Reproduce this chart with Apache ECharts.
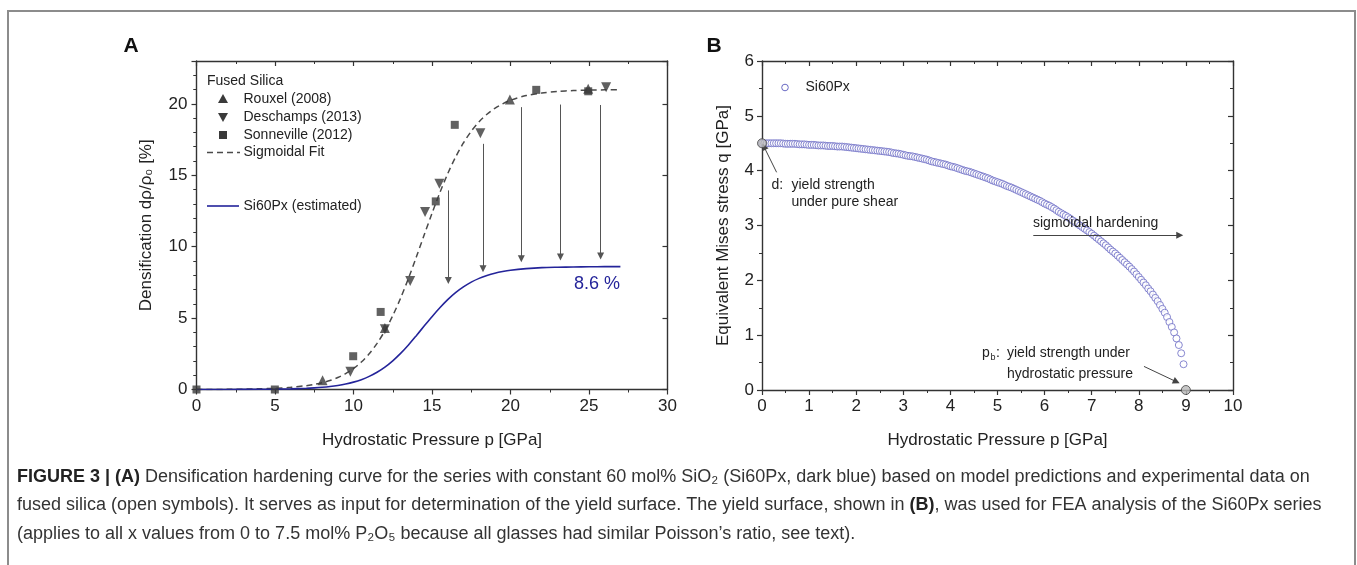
<!DOCTYPE html>
<html><head><meta charset="utf-8">
<script src="https://cdn.jsdelivr.net/npm/echarts@6/dist/echarts.min.js"></script>
<style>html,body{margin:0;padding:0;background:#fff;}#c{width:1357px;height:565px;}</style>
</head><body><div id="c"></div>
<script>
// ---------- Panel A data ----------
const rouxel = [[8.03,0.65],[12.0,4.30],[19.96,20.30],[24.95,21.05]];
const deschamps = [[9.80,1.24],[12.0,4.22],[13.61,7.60],[14.56,12.42],[15.47,14.41],[18.08,17.95],[26.09,21.16]];
const sonneville = [[0,0],[4.99,0],[9.98,2.33],[11.73,5.43],[15.24,13.17],[16.45,18.53],[21.64,20.98],[24.95,20.88]];
const curveX = [0,2,4,5,6,7,7.5,8,8.5,9,9.5,10,10.5,11,11.5,12,12.5,13,13.5,14,14.5,15,15.5,16,16.5,17,17.5,18,18.5,19,19.5,20,21,22,23,24,25,26,27];
const fitY = [0,0.01,0.05,0.08,0.15,0.27,0.36,0.48,0.63,0.84,1.11,1.47,1.92,2.50,3.23,4.11,5.17,6.40,7.78,9.27,10.81,12.33,13.78,15.11,16.27,17.26,18.08,18.75,19.27,19.69,20.00,20.25,20.58,20.76,20.87,20.93,20.96,20.98,20.99];
const si60Y = [0,0.004,0.013,0.024,0.045,0.083,0.114,0.155,0.21,0.285,0.384,0.517,0.691,0.918,1.206,1.569,2.01,2.53,3.12,3.77,4.44,5.10,5.72,6.29,6.78,7.18,7.52,7.78,7.98,8.14,8.26,8.35,8.46,8.53,8.56,8.58,8.59,8.60,8.60];
const arrowX = [16.04,18.25,20.69,23.18,25.74];
const arrowTop = [13.94,17.2,19.77,19.95,19.92];
const arrowTip = [7.64,8.46,9.16,9.28,9.35];
const plateauLabel = '8.6 %';

// ---------- Panel B data ----------
const yieldP = [0,0.05,0.1,0.15,0.2,0.25,0.3,0.35,0.4,0.45,0.5,0.55,0.6,0.65,0.7,0.75,0.8,0.85,0.9,0.95,
1,1.05,1.1,1.15,1.2,1.25,1.3,1.35,1.4,1.45,1.5,1.55,1.6,1.65,1.7,1.75,1.8,1.85,1.9,1.95,
2,2.05,2.1,2.15,2.2,2.25,2.3,2.35,2.4,2.45,2.5,2.55,2.6,2.65,2.7,2.75,2.8,2.85,2.9,2.95,
3,3.05,3.1,3.15,3.2,3.25,3.3,3.35,3.4,3.45,3.5,3.55,3.6,3.65,3.7,3.75,3.8,3.85,3.9,3.95,
4,4.05,4.1,4.15,4.2,4.25,4.3,4.35,4.4,4.45,4.5,4.55,4.6,4.65,4.7,4.75,4.8,4.85,4.9,4.95,
5,5.05,5.1,5.15,5.2,5.25,5.3,5.35,5.4,5.45,5.5,5.55,5.6,5.65,5.7,5.75,5.8,5.85,5.9,5.95,
6,6.05,6.1,6.15,6.2,6.25,6.3,6.35,6.4,6.45,6.5,6.55,6.6,6.65,6.7,6.75,6.8,6.85,6.9,6.95,
7,7.05,7.1,7.15,7.2,7.25,7.3,7.35,7.4,7.45,7.5,7.55,7.6,7.65,7.7,7.75,7.8,7.85,7.9,7.95,
8,8.05,8.1,8.15,8.2,8.25,8.3,8.35,8.4,8.45,8.5,8.55,8.6,8.65,8.7,8.75,8.8,8.85,8.9,8.95];
const yieldQ = [4.50,4.50,4.50,4.50,4.50,4.50,4.50,4.50,4.50,4.495,4.49,4.49,4.49,4.49,4.49,4.485,4.48,4.48,4.48,4.475,
4.47,4.47,4.47,4.465,4.46,4.46,4.46,4.455,4.45,4.45,4.45,4.445,4.44,4.44,4.44,4.435,4.43,4.425,4.42,4.415,
4.41,4.405,4.40,4.395,4.39,4.385,4.38,4.375,4.37,4.365,4.36,4.355,4.35,4.345,4.34,4.33,4.32,4.315,4.31,4.30,
4.29,4.28,4.27,4.265,4.26,4.25,4.24,4.23,4.22,4.21,4.20,4.185,4.17,4.16,4.15,4.14,4.13,4.12,4.11,4.095,
4.08,4.07,4.06,4.045,4.03,4.015,4.00,3.99,3.98,3.965,3.95,3.935,3.92,3.905,3.89,3.875,3.86,3.84,3.82,3.805,
3.79,3.775,3.76,3.74,3.72,3.705,3.69,3.67,3.65,3.63,3.61,3.59,3.57,3.55,3.53,3.51,3.49,3.47,3.45,3.425,
3.40,3.38,3.36,3.335,3.31,3.28,3.25,3.225,3.20,3.175,3.15,3.12,3.09,3.06,3.03,3.00,2.97,2.94,2.91,2.88,
2.85,2.815,2.78,2.745,2.71,2.675,2.64,2.60,2.56,2.525,2.49,2.45,2.41,2.37,2.33,2.29,2.25,2.205,2.16,2.11,
2.06,2.01,1.96,1.91,1.85,1.80,1.74,1.68,1.62,1.55,1.48,1.41,1.33,1.24,1.15,1.05,0.94,0.82,0.67,0.47];
const keyPoints = [[0,4.5],[9,0]];
const annoArrowsB = [[[0.31,3.97],[0.04,4.44]],[[5.76,2.82],[8.87,2.82]],[[8.11,0.43],[8.80,0.15]]];

// ---------- tick labels ----------
const xTicksA = {min:0,max:30,interval:5};
const yTicksA = {min:0,max:23,interval:5};
const xTicksB = {min:0,max:10,interval:1};
const yTicksB = {min:0,max:6,interval:1};

const FONT = "'Liberation Sans', Arial, 'DejaVu Sans', sans-serif";
const AX = '#333';
const MK = '#3a3a3a';
const NAVY = '#24249a';
const CIRC = '#6a6ac4';

function axisBase(grid, range, pos, opts) {
  return Object.assign({
    type:'value', gridIndex:grid, position:pos, min:range.min, max:range.max, interval:range.interval,
    axisLine:{show:true, onZero:false, lineStyle:{color:AX, width:1.4}},
    axisTick:{show:true, inside:false, length:5, lineStyle:{color:AX, width:1.2}},
    minorTick:{show:false},
    splitLine:{show:false},
    axisLabel:{show:false},
    silent:true
  }, opts);
}
const lbl = (m) => ({show:true, fontSize:17, color:'#222', fontFamily:FONT, margin:m});

const chart = echarts.init(document.getElementById('c'), null, {renderer:'canvas'});

const xAxis = [
  axisBase(0, xTicksA, 'bottom', {minorTick:{show:true, splitNumber:2, length:3, lineStyle:{color:AX,width:1}},
    axisLabel:lbl(8), name:'Hydrostatic Pressure p [GPa]', nameLocation:'middle', nameGap:42,
    nameTextStyle:{fontSize:17, color:'#222', fontFamily:FONT}}),
  axisBase(0, xTicksA, 'top', {axisTick:{show:true, inside:true, length:5, lineStyle:{color:AX,width:1.2}},
    minorTick:{show:true, splitNumber:2, length:3, lineStyle:{color:AX,width:1}}}),
  axisBase(1, xTicksB, 'bottom', {minorTick:{show:true, splitNumber:2, length:3, lineStyle:{color:AX,width:1}},
    axisLabel:lbl(8), name:'Hydrostatic Pressure p [GPa]', nameLocation:'middle', nameGap:42,
    nameTextStyle:{fontSize:17, color:'#222', fontFamily:FONT}}),
  axisBase(1, xTicksB, 'top', {axisTick:{show:true, inside:true, length:5, lineStyle:{color:AX,width:1.2}},
    minorTick:{show:true, splitNumber:2, length:3, lineStyle:{color:AX,width:1}}})
];
const yAxis = [
  axisBase(0, yTicksA, 'left', {axisLabel:Object.assign(lbl(9), {formatter:(v)=> (v % 5 === 0 ? String(v) : '')}),
    name:'Densification dρ/ρ₀ [%]', nameLocation:'middle', nameGap:42,
    nameTextStyle:{fontSize:17, color:'#222', fontFamily:FONT}}),
  axisBase(0, {min:0,max:23,interval:1}, 'left', {axisLine:{show:false}, axisTick:{show:true, inside:false, length:3, lineStyle:{color:AX,width:1}}}),
  axisBase(0, yTicksA, 'right', {axisTick:{show:true, inside:true, length:5, lineStyle:{color:AX,width:1.2}}}),
  axisBase(0, {min:0,max:23,interval:1}, 'right', {axisLine:{show:false}, axisTick:{show:true, inside:true, length:3, lineStyle:{color:AX,width:1}}}),
  axisBase(1, yTicksB, 'left', {minorTick:{show:true, splitNumber:2, length:3, lineStyle:{color:AX,width:1}},
    axisLabel:lbl(8), name:'Equivalent Mises stress q [GPa]', nameLocation:'middle', nameGap:30,
    nameTextStyle:{fontSize:17, color:'#222', fontFamily:FONT}}),
  axisBase(1, yTicksB, 'right', {axisTick:{show:true, inside:true, length:5, lineStyle:{color:AX,width:1.2}},
    minorTick:{show:true, splitNumber:2, length:3, lineStyle:{color:AX,width:1}}})
];

const arrowLinesA = arrowX.map((x,i)=>[{coord:[x, arrowTop[i]]},{coord:[x, arrowTip[i]]}]);
const arrowLinesB = annoArrowsB.map(a=>[{coord:a[0]},{coord:a[1]}]);

const series = [
  {type:'line', name:'Sigmoidal Fit', xAxisIndex:0, yAxisIndex:0, data:curveX.map((x,i)=>[x,fitY[i]]),
   smooth:0.3, showSymbol:false, symbol:'none', lineStyle:{color:'#4a4a4a', width:1.5, type:[6,4]}, z:2},
  {type:'line', name:'Si60Px (estimated)', xAxisIndex:0, yAxisIndex:0, data:curveX.map((x,i)=>[x,si60Y[i]]),
   smooth:0.3, showSymbol:false, symbol:'none', lineStyle:{color:NAVY, width:1.6}, z:2},
  {type:'scatter', name:'Rouxel (2008)', xAxisIndex:0, yAxisIndex:0, data:rouxel, symbol:'triangle', symbolSize:10,
   itemStyle:{color:MK}, z:4},
  {type:'scatter', name:'Deschamps (2013)', xAxisIndex:0, yAxisIndex:0, data:deschamps, symbol:'triangle', symbolRotate:180, symbolSize:10,
   itemStyle:{color:MK}, z:4},
  {type:'scatter', name:'Sonneville (2012)', xAxisIndex:0, yAxisIndex:0, data:sonneville, symbol:'rect', symbolSize:8,
   itemStyle:{color:MK}, z:4},
  {type:'line', name:'arrowsA', xAxisIndex:0, yAxisIndex:0, data:[], silent:true,
   markLine:{silent:true, animation:false, symbol:['none','triangle'], symbolSize:7, label:{show:false},
     lineStyle:{color:'#555', width:1, type:'solid'}, itemStyle:{color:'#222'}, emphasis:{disabled:true}, data:arrowLinesA}},
  {type:'scatter', name:'Si60Px', xAxisIndex:2, yAxisIndex:4, data:yieldP.map((p,i)=>[p,yieldQ[i]]),
   symbol:'circle', symbolSize:7, itemStyle:{color:'#fff', borderColor:CIRC, borderWidth:1}, z:3},
  {type:'scatter', name:'keys', xAxisIndex:2, yAxisIndex:4, data:keyPoints, symbol:'circle', symbolSize:9,
   itemStyle:{color:'#b9b9b9', borderColor:'#444', borderWidth:1}, z:6, clip:false},
  {type:'line', name:'arrowsB', xAxisIndex:2, yAxisIndex:4, data:[], silent:true,
   markLine:{silent:true, animation:false, symbol:['none','triangle'], symbolSize:7, label:{show:false},
     lineStyle:{color:'#444', width:1, type:'solid'}, itemStyle:{color:'#222'}, emphasis:{disabled:true}, data:arrowLinesB}}
];

const T = (text, x, y, o) => ({type:'text', silent:true, z:50, style:Object.assign({text, x, y, fill:'#222', fontSize:14, fontFamily:FONT, align:'left', verticalAlign:'middle'}, o||{})});
const tri = (cx, cy, down) => ({type:'polygon', silent:true, z:50, shape:{points: down ? [[cx-5,cy-4],[cx+5,cy-4],[cx,cy+5]] : [[cx-5,cy+4],[cx+5,cy+4],[cx,cy-5]]}, style:{fill:MK}});

const CAP = 18;
const capRich = {b:{fontWeight:'bold', fontSize:CAP, fontFamily:FONT, fill:'#222'}};
const graphic = [
  {type:'rect', silent:true, z:0, shape:{x:8, y:11, width:1347, height:620}, style:{fill:'none', stroke:'#8c8c8c', lineWidth:2}},
  T('A', 131, 46, {fontSize:21, fontWeight:'bold', align:'center', fill:'#111'}),
  T('B', 714, 46, {fontSize:21, fontWeight:'bold', align:'center', fill:'#111'}),
  // legend A
  T('Fused Silica', 207, 81),
  tri(223, 99, false), T('Rouxel (2008)', 243.5, 99),
  tri(223, 117, true), T('Deschamps (2013)', 243.5, 117),
  {type:'rect', silent:true, z:50, shape:{x:219, y:131, width:8, height:8}, style:{fill:MK}},
  T('Sonneville (2012)', 243.5, 135),
  {type:'line', silent:true, z:50, shape:{x1:207, y1:152.5, x2:240, y2:152.5}, style:{stroke:'#4a4a4a', lineWidth:1.5, lineDash:[6,4]}},
  T('Sigmoidal Fit', 243.5, 152.5),
  {type:'line', silent:true, z:50, shape:{x1:207, y1:206, x2:239, y2:206}, style:{stroke:NAVY, lineWidth:1.6}},
  T('Si60Px (estimated)', 243.5, 206),
  T(plateauLabel, 620, 284, {align:'right', fontSize:18, fill:NAVY}),
  // legend B
  {type:'circle', silent:true, z:50, shape:{cx:785, cy:87.5, r:3.3}, style:{fill:'#fff', stroke:CIRC, lineWidth:1}},
  T('Si60Px', 805.5, 87.5),
  // annotations B
  T('d:', 771.5, 185), T('yield strength', 791.5, 185), T('under pure shear', 791.5, 202.5),
  T('sigmoidal hardening', 1033, 223.5),
  T('p', 982, 353.5), T('b', 990.5, 357.5, {fontSize:9}), T(':', 996, 353.5),
  T('yield strength under', 1007, 353.5), T('hydrostatic pressure', 1007, 374.5),
  // caption
  T('{b|FIGURE 3 | (A)} Densification hardening curve for the series with constant 60 mol% SiO₂ (Si60Px, dark blue) based on model predictions and experimental data on', 17, 477, {fontSize:CAP, fill:'#333', rich:capRich}),
  T('fused silica (open symbols). It serves as input for determination of the yield surface. The yield surface, shown in {b|(B)}, was used for FEA analysis of the Si60Px series', 17, 505.5, {fontSize:CAP, fill:'#333', rich:capRich}),
  T('(applies to all x values from 0 to 7.5 mol% P₂O₅ because all glasses had similar Poisson’s ratio, see text).', 17, 534, {fontSize:CAP, fill:'#333', rich:capRich})
];

chart.setOption({
  animation:false,
  backgroundColor:'#fff',
  textStyle:{fontFamily:FONT},
  grid:[{left:196.5, top:61, width:471, height:328.5, containLabel:false},
        {left:762, top:61, width:471, height:329, containLabel:false}],
  xAxis, yAxis, series, graphic
});
</script></body></html>
